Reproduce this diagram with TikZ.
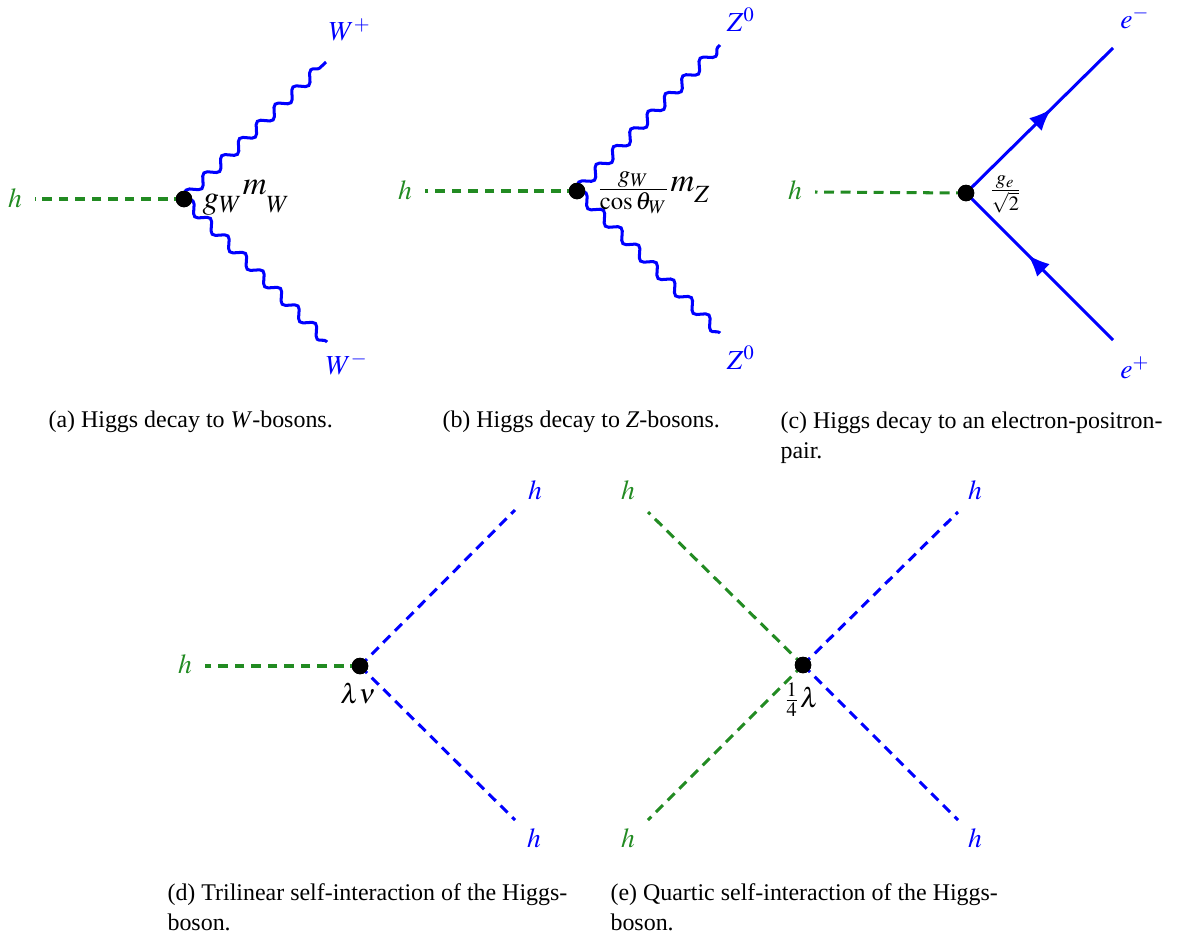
\documentclass[tikz,border=0pt]{standalone}
\usepackage{mathptmx}
\usepackage{fontspec}
\setmainfont{Liberation Serif}
\usetikzlibrary{decorations.pathmorphing,decorations.markings,arrows.meta}
\definecolor{hgreen}{RGB}{34,139,34}
\definecolor{vblue}{RGB}{0,0,255}
\begin{document}
\begin{tikzpicture}[x=0.3636pt,y=-0.3636pt,
 higgs/.style={hgreen, line width=1.1pt, dash pattern=on 3.6pt off 2.4pt},
 higgsb/.style={vblue, line width=1.1pt, dash pattern=on 3.6pt off 2.4pt},
 boson/.style={vblue, line width=1.1pt, decorate, decoration={snake, amplitude=1.8pt, segment length=9pt}},
 fermion/.style={vblue, line width=1.1pt, postaction={decorate}, decoration={markings, mark=at position 0.58 with {\arrow{Latex[length=8pt,width=6.5pt]}}}},
 vtx/.style={circle, fill=black, inner sep=0pt, minimum size=6pt},
 glab/.style={text=hgreen, inner sep=0pt},
 blab/.style={text=vblue, inner sep=0pt},
 vlab/.style={inner sep=0pt},
 biglab/.style={inner sep=0pt, font=\fontsize{12}{14}\selectfont},
 captext/.style={anchor=base west, align=left, inner sep=0pt, font=\fontsize{8.7}{10.9}\selectfont}
]
\useasboundingbox (0,0) rectangle (1181,940);
% (a)
\node[glab] (ah) at (15,198) {$h$};
\coordinate (ahs) at (35,199);
\node[vtx] (av) at (184,199) {};
\coordinate (awp) at (326,62);
\coordinate (awm) at (327,342);
\node[blab] (awpl) at (350,30) {$W^{+}$};
\node[blab] (awml) at (347,364) {$W^{-}$};
\draw[higgs] (av.center) -- (ahs);
\draw[boson] (av.center) -- (awp);
\draw[boson] (av.center) -- (awm);
\node[biglab, anchor=base west] (avl) at (202,208) {$g_W\raisebox{0.42em}{$m$}_W$};
\node[captext] (acap) at (48,427) {(a) Higgs decay to \textit{W}-bosons.};
% (b)
\node[glab] (bh) at (405,190) {$h$};
\coordinate (bhs) at (425,191);
\node[vtx] (bv) at (577,191) {};
\coordinate (bzu) at (720,45);
\coordinate (bzd) at (720,333);
\node[blab] (bzul) at (741,20) {$Z^{0}$};
\node[blab] (bzdl) at (741,358) {$Z^{0}$};
\draw[higgs] (bv.center) -- (bhs);
\draw[boson] (bv.center) -- (bzu);
\draw[boson] (bv.center) -- (bzd);
\node[biglab, anchor=base west] (bvl) at (596,198) {$\frac{g_W}{\cos\theta_W}\raisebox{0.2em}{$m$}_Z$};
\node[captext] (bcap) at (442,427) {(b) Higgs decay to \textit{Z}-bosons.};
% (c)
\node[glab] (ch) at (795,190) {$h$};
\coordinate (chs) at (815,192);
\node[vtx] (cv) at (966,193) {};
\coordinate (cem) at (1113,48);
\coordinate (cep) at (1113,340);
\node[blab] (ceml) at (1135,18) {$e^{-}$};
\node[blab] (cepl) at (1135,368) {$e^{+}$};
\draw[higgs] (cv.center) -- (chs);
\draw[fermion] (cv.center) -- (cem);
\draw[fermion] (cep) -- (cv.center);
\node[vlab, anchor=base west] (cvl) at (988,197) {$\frac{g_e}{\sqrt{2}}$};
\node[captext] (ccap) at (780,458) {(c) Higgs decay to an electron-positron-\\pair.};
% (d)
\node[glab] (dh) at (185,664) {$h$};
\coordinate (dhs) at (205,666);
\node[vtx] (dv) at (360,666) {};
\coordinate (du) at (515,510);
\coordinate (dd) at (515,820);
\node[blab] (dul) at (535,490) {$h$};
\node[blab] (ddl) at (534,838) {$h$};
\draw[higgs] (dv.center) -- (dhs);
\draw[higgsb] (dv.center) -- (du);
\draw[higgsb] (dv.center) -- (dd);
\node[vlab, anchor=base] (dvl) at (358,703) {$\lambda\nu$};
\node[captext] (dcap) at (167,930) {(d) Trilinear self-interaction of the Higgs-\\boson.};
% (e)
\node[vtx] (ev) at (803,665) {};
\coordinate (eul) at (648,512);
\coordinate (edl) at (648,820);
\coordinate (eur) at (958,512);
\coordinate (edr) at (958,820);
\node[glab] (eull) at (628,490) {$h$};
\node[glab] (edll) at (628,838) {$h$};
\node[blab] (eurl) at (975,490) {$h$};
\node[blab] (edrl) at (975,838) {$h$};
\draw[higgs] (ev.center) -- (eul);
\draw[higgs] (ev.center) -- (edl);
\draw[higgsb] (ev.center) -- (eur);
\draw[higgsb] (ev.center) -- (edr);
\node[vlab, anchor=base] (evl) at (801,707) {$\frac{1}{4}\lambda$};
\node[captext] (ecap) at (610,930) {(e) Quartic self-interaction of the Higgs-\\boson.};
% vertices on top
\foreach \v in {av,bv,cv,dv,ev} \fill (\v) circle (3pt);
\end{tikzpicture}
\end{document}
